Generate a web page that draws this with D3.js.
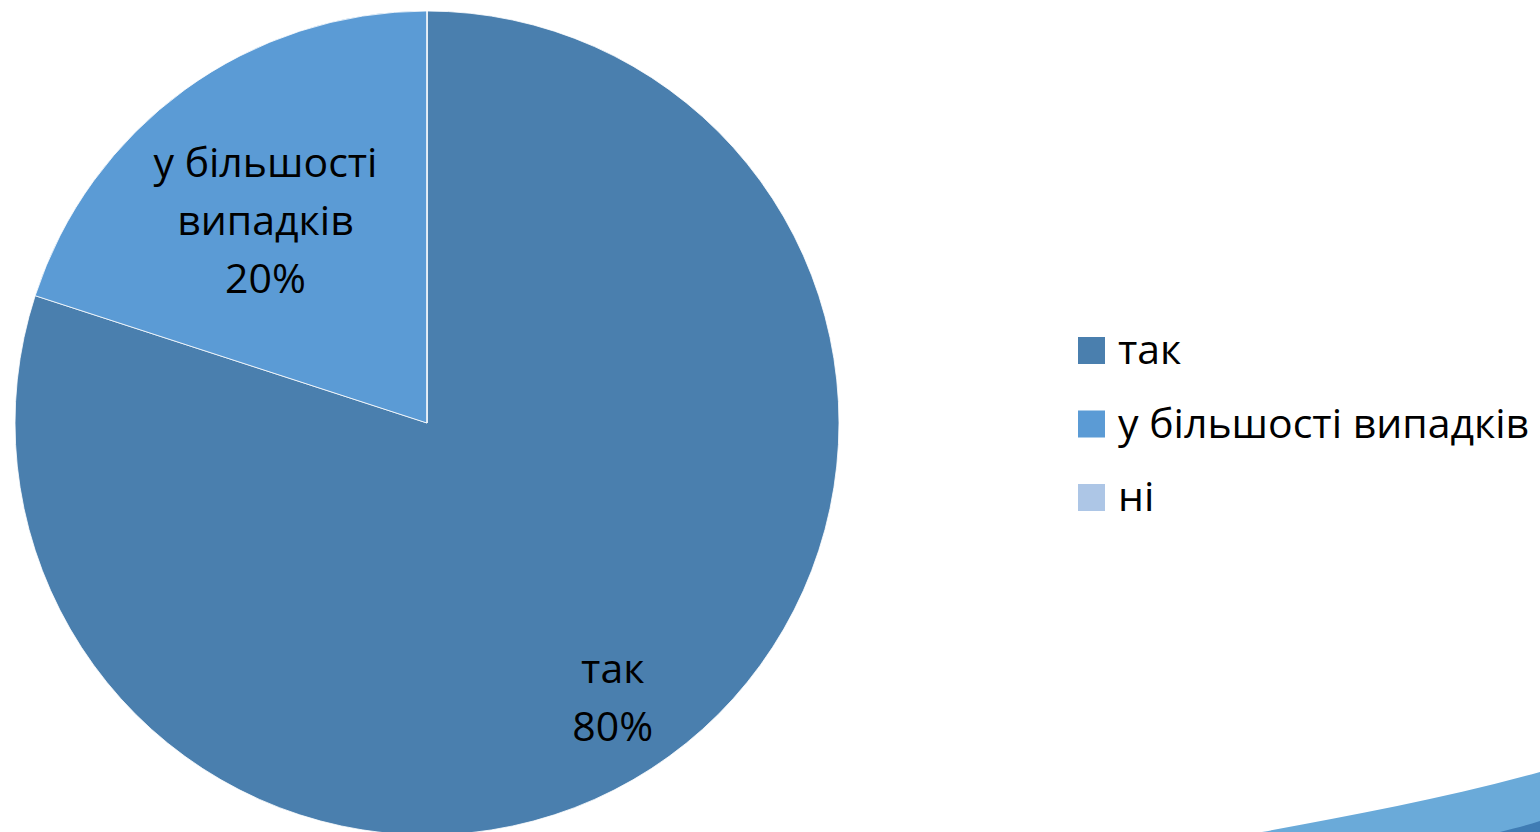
<!DOCTYPE html>
<html>
<head>
<meta charset="utf-8">
<script src="https://cdn.jsdelivr.net/npm/d3@7"></script>
<style>
  body { margin: 0; background: #fff; overflow: hidden; }
  text { font-family: "Open Sans", "Noto Sans", sans-serif; fill: #000; }
</style>
</head>
<body>
<script>
const categories = ['так', 'у більшості випадків', 'ні'];
const values = [80, 20, 0];
const sliceLabels = [['так', '80%'], ['у більшості', 'випадків', '20%'], []];
const colors = ['#4a7fae', '#5b9bd5', '#adc6e6'];

const W = 1540, H = 832;
const cx = 427, cy = 423, r = 412;
const fs = 41;

const svg = d3.select('body').append('svg')
  .attr('width', W)
  .attr('height', H);

// decorative swoosh in the bottom right corner
svg.append('path')
  .attr('d', 'M1262,832 C1350,816 1450,797 1540,772 L1540,832 Z')
  .attr('fill', '#6aaad9');
svg.append('path')
  .attr('d', 'M1500,832 C1515,828 1528,825 1540,821 L1540,832 Z')
  .attr('fill', '#3f7cb4');

const pie = d3.pie().sort(null).value(d => d);
const arcs = pie(values);
const arc = d3.arc().innerRadius(0).outerRadius(r);

const g = svg.append('g').attr('transform', `translate(${cx},${cy})`);

g.selectAll('path.slice')
  .data(arcs)
  .enter()
  .append('path')
  .attr('class', 'slice')
  .attr('d', arc)
  .attr('fill', (d, i) => colors[i])
  .attr('stroke', '#fff')
  .attr('stroke-width', 0.8);

// labels: big slice label sits further out than the small one
const lineH = 58;
arcs.forEach((d, i) => {
  if (!d.value) return;
  const big = (d.endAngle - d.startAngle) > Math.PI;
  const k = big ? 0.80 : 0.63;
  const shift = big ? [-8, 8] : [-9, 8];
  const la = d3.arc().innerRadius(r * k).outerRadius(r * k);
  const [lx, ly] = la.centroid(d);
  const lines = sliceLabels[i];
  const t = g.append('text')
    .attr('text-anchor', 'middle')
    .attr('font-size', fs);
  lines.forEach((s, j) => {
    t.append('tspan')
      .attr('x', lx + shift[0])
      .attr('y', ly + shift[1] + (j - (lines.length - 1) / 2) * lineH + 14)
      .text(s);
  });
});

// legend
const legend = svg.append('g').attr('transform', 'translate(1078,337)');
const items = legend.selectAll('g')
  .data(categories)
  .enter()
  .append('g')
  .attr('transform', (d, i) => `translate(0,${i * 73.5})`);
items.append('rect')
  .attr('width', 27)
  .attr('height', 27)
  .attr('fill', (d, i) => colors[i]);
items.append('text')
  .attr('x', 40)
  .attr('y', 27)
  .attr('font-size', fs)
  .text(d => d);
</script>
</body>
</html>
